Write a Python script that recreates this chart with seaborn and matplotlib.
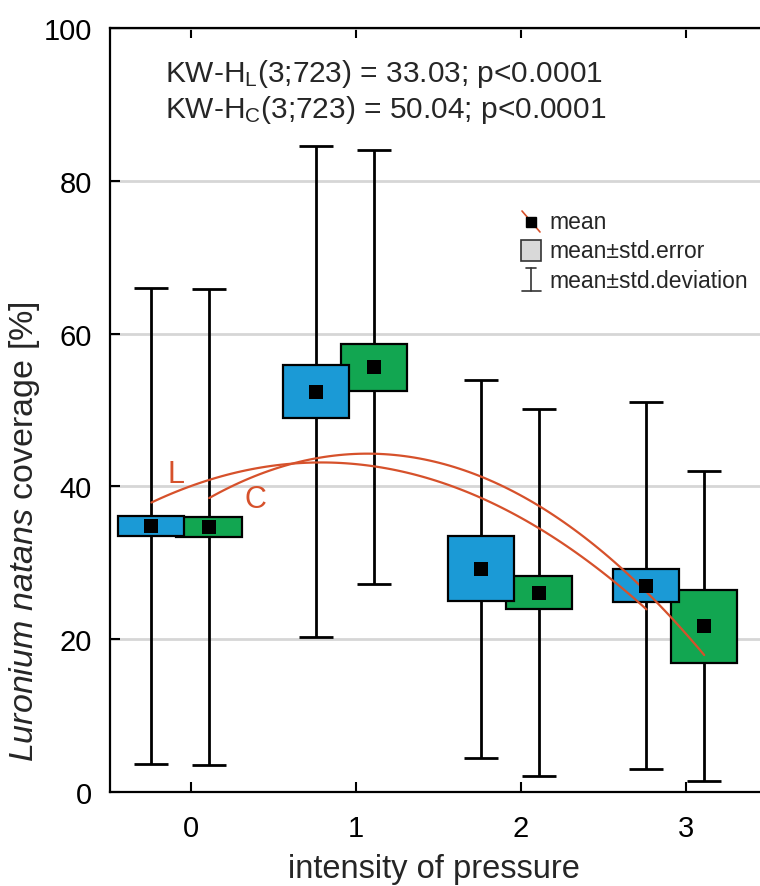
import numpy as np
import pandas as pd
import matplotlib
matplotlib.use('Agg')
import matplotlib.pyplot as plt
import seaborn as sns
from matplotlib.patches import Rectangle
from matplotlib.lines import Line2D

# ---------------- data ----------------
groups = [0, 1, 2, 3]
tick_labels = ['0', '1', '2', '3']
L_mean = [34.8, 52.4, 29.2, 27.0]
L_se = [1.35, 3.5, 4.25, 2.15]
L_sd = [31.2, 32.1, 24.7, 24.0]
C_mean = [34.7, 55.6, 26.1, 21.7]
C_se = [1.35, 3.1, 2.15, 4.75]
C_sd = [31.15, 28.4, 24.0, 20.3]
series_names = ['L', 'C']
stat_lines = ['KW-H$_\\mathregular{L}$(3;723) = 33.03; p<0.0001',
              'KW-H$_\\mathregular{C}$(3;723) = 50.04; p<0.0001']
legend_labels = ['mean', 'mean\u00b1std.error', 'mean\u00b1std.deviation']

# ---------------- style ----------------
sns.set_style('white')
plt.rcParams['font.family'] = ['Liberation Sans', 'DejaVu Sans']
plt.rcParams['mathtext.fontset'] = 'custom'
plt.rcParams['mathtext.rm'] = 'Liberation Sans'
plt.rcParams['mathtext.it'] = 'Liberation Sans:italic'
plt.rcParams['mathtext.default'] = 'regular'

colors = {'L': '#1b9ad6', 'C': '#12a651'}
offsets = {'L': -0.24, 'C': 0.11}
red = '#d6512b'

df = pd.DataFrame({
    'group': groups * 2,
    'series': ['L'] * 4 + ['C'] * 4,
    'mean': L_mean + C_mean,
    'se': L_se + C_se,
    'sd': L_sd + C_sd,
})
df['x'] = df['group'] + df['series'].map(offsets)

fig = plt.figure(figsize=(7.6, 8.87), dpi=100)
ax = fig.add_axes([110 / 760, 94 / 887, 650 / 760, 764 / 887])

# whiskers (mean ± sd)
ax.errorbar(df['x'], df['mean'], yerr=df['sd'], fmt='none', ecolor='black',
            elinewidth=2.0, capsize=12, capthick=2.0, zorder=2)

# boxes (mean ± se)
for s, z in [('C', 3), ('L', 4)]:
    sub = df[df['series'] == s]
    ax.bar(sub['x'], 2 * sub['se'], bottom=sub['mean'] - sub['se'], width=0.4,
           color=colors[s], edgecolor='black', linewidth=1.6, zorder=z)

# quadratic trend lines through means
for s in series_names:
    sub = df[df['series'] == s]
    sns.regplot(x=sub['x'], y=sub['mean'], order=2, ci=None, scatter=False,
                truncate=True, ax=ax,
                line_kws=dict(color=red, lw=1.6, zorder=5))

# mean markers
sns.scatterplot(data=df, x='x', y='mean', marker='s', s=110, color='black',
                linewidth=0, zorder=6, legend=False, ax=ax)

ax.text(-0.09, 41.6, 'L', color=red, fontsize=22, ha='center', va='center', zorder=7)
ax.text(0.39, 38.4, 'C', color=red, fontsize=22, ha='center', va='center', zorder=7)

# axes
ax.set_xlim(-0.491, 3.448)
ax.set_ylim(0, 100)
ax.set_xticks(groups)
ax.set_xticklabels(tick_labels)
ax.set_yticks([0, 20, 40, 60, 80, 100])
ax.yaxis.grid(True, color='#d6d6d6', lw=2)
ax.xaxis.grid(False)
ax.set_axisbelow(True)
for sp in ['top', 'bottom', 'left']:
    ax.spines[sp].set_color('black')
    ax.spines[sp].set_linewidth(1.6)
ax.spines['right'].set_visible(False)
ax.tick_params(axis='x', direction='in', top=True, bottom=True, length=7,
               width=1.5, labelsize=21, pad=16, colors='black')
ax.tick_params(axis='y', direction='in', left=True, right=False, length=7,
               width=1.5, labelsize=21, pad=13, colors='black')
ax.set_xlabel('intensity of pressure', fontsize=23.5)
ax.xaxis.set_label_coords((434 - 110) / 650, (793 - 854) / 764)
ax.set_ylabel('$\\it{Luronium\\ natans}$ coverage [%]', fontsize=24.5)
ax.yaxis.set_label_coords((42 - 110) / 650, (793 - 532) / 764)

# statistics text
fig.text(165 / 760, 1 - 82 / 887, stat_lines[0], fontsize=21.5, va='baseline')
fig.text(165 / 760, 1 - 118 / 887, stat_lines[1], fontsize=21.5, va='baseline')

# manual legend (axes coords from pixel positions)
def ax_xy(px, py):
    return (px - 110) / 650, (793 - py) / 764

tr = ax.transAxes
# mean
x0, y0 = ax_xy(522, 212)
x1, y1 = ax_xy(540, 233)
ax.add_line(Line2D([x0, x1], [y0, y1], color=red, lw=1.2, transform=tr, zorder=8))
mx, my = ax_xy(531, 223)
ax.add_line(Line2D([mx], [my], marker='s', markersize=7, color='black', lw=0,
                   transform=tr, zorder=9))
# std error box
bx, by = ax_xy(521, 262)
ax.add_patch(Rectangle((bx, by), 20 / 650, 21 / 764, facecolor='#d9d9d9',
                       edgecolor='#333333', lw=1.2, transform=tr, zorder=8))
# std deviation
a, b = ax_xy(531, 269)
c, d = ax_xy(531, 292)
ax.add_line(Line2D([a, c], [b, d], color='#333333', lw=1.2, transform=tr, zorder=8))
p, q = ax_xy(526, 269)
r, _ = ax_xy(536, 269)
ax.add_line(Line2D([p, r], [q, q], color='#333333', lw=1.2, transform=tr, zorder=8))
p, q = ax_xy(522, 292)
r, _ = ax_xy(541, 292)
ax.add_line(Line2D([p, r], [q, q], color='#333333', lw=1.2, transform=tr, zorder=8))
for lab, py in zip(legend_labels, [223, 252, 282]):
    tx, ty = ax_xy(549, py)
    ax.text(tx, ty, lab, fontsize=16.5, va='center', ha='left', transform=tr)

fig.savefig('out.png', dpi=100)
